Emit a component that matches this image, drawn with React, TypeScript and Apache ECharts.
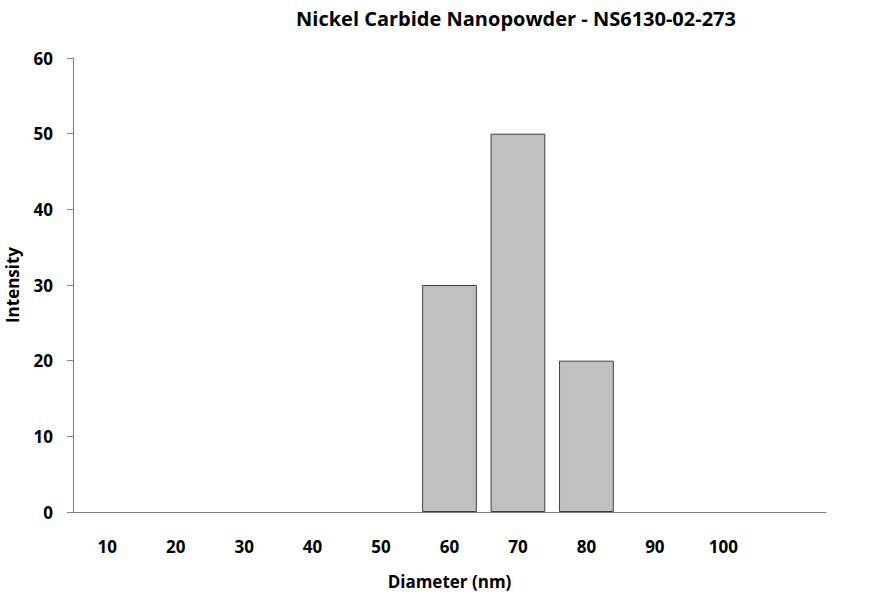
import React, { useEffect, useRef } from "react";
import * as echarts from "echarts";

const categories = ["10", "20", "30", "40", "50", "60", "70", "80", "90", "100", ""];
const intensity = [0, 0, 0, 0, 0, 30, 50, 20, 0, 0, 0];
const titleText = "Nickel Carbide Nanopowder - NS6130-02-273";
const xName = "Diameter (nm)";
const yName = "Intensity";

const FONT = "'Open Sans', 'Liberation Sans', sans-serif";

export default function App() {
  const ref = useRef<HTMLDivElement>(null);
  useEffect(() => {
    document.body.style.margin = "0";
    const chart = echarts.init(ref.current!, undefined, { renderer: "svg" });
    chart.setOption({
      animation: false,
      backgroundColor: "#ffffff",
      textStyle: { fontFamily: FONT },
      title: {
        text: titleText,
        left: 511,
        top: 3,
        textAlign: "center",
        textStyle: { fontFamily: FONT, fontWeight: "bold", fontSize: 20, color: "#000" },
      },
      grid: { left: 73, right: 53, top: 58, bottom: 87, containLabel: false, outerBoundsMode: "none" },
      xAxis: {
        type: "category",
        data: categories,
        name: xName,
        nameLocation: "middle",
        nameGap: 61,
        nameTextStyle: { fontFamily: FONT, fontWeight: "bold", fontSize: 17, color: "#000" },
        axisLine: { lineStyle: { color: "#808080", width: 1 } },
        axisTick: { show: false },
        axisLabel: {
          interval: 0,
          margin: 26,
          fontFamily: FONT,
          fontWeight: "bold",
          fontSize: 17,
          color: "#000",
        },
        splitLine: { show: false },
      },
      yAxis: {
        type: "value",
        min: 0,
        max: 60,
        interval: 10,
        name: yName,
        nameLocation: "middle",
        nameGap: 52,
        nameTextStyle: { fontFamily: FONT, fontWeight: "bold", fontSize: 17, color: "#000" },
        axisLine: { show: true, lineStyle: { color: "#808080", width: 1 } },
        axisTick: { show: true, length: 6, lineStyle: { color: "#808080" } },
        axisLabel: {
          margin: 20,
          fontFamily: FONT,
          fontWeight: "bold",
          fontSize: 17,
          color: "#000",
        },
        splitLine: { show: false },
      },
      series: [
        {
          type: "bar",
          data: intensity.map((v) => (v === 0 ? null : v)),
          barCategoryGap: "20%",
          itemStyle: { color: "#C0C0C0", borderColor: "#404040", borderWidth: 1 },
        },
      ],
    });
    return () => chart.dispose();
  }, []);
  return (
    <div
      ref={ref}
      style={{ position: "absolute", left: 0, top: 0, width: 879, height: 599 }}
    />
  );
}
